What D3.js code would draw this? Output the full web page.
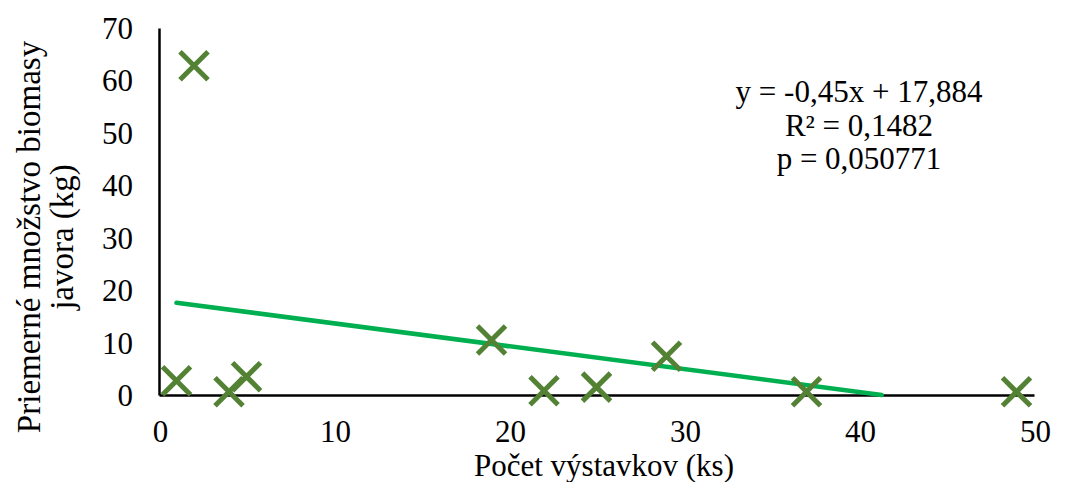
<!DOCTYPE html>
<html>
<head>
<meta charset="utf-8">
<script src="https://cdn.jsdelivr.net/npm/d3@7"></script>
<style>
  html, body { margin: 0; padding: 0; background: #fff; }
  svg { display: block; }
  text { font-family: "Liberation Serif", "Times New Roman", serif; fill: #000; }
</style>
</head>
<body>
<svg id="chart" width="1069" height="482"></svg>
<script>
// Data
const xValues = [1, 2, 4, 5, 19, 22, 25, 29, 37, 49];
const yValues = [2.7, 62.8, 0.6, 3.5, 10.5, 0.8, 1.5, 7.4, 0.6, 0.6];
const trendX = [1, 41.3];
const trendY = [17.6, 0];
const xTicks = [0, 10, 20, 30, 40, 50];
const yTicks = [0, 10, 20, 30, 40, 50, 60, 70];
const equationLines = ["y = -0,45x + 17,884", "R² = 0,1482", "p = 0,050771"];
const xTitle = "Počet výstavkov (ks)";
const yTitleLines = ["Priemerné množstvo biomasy", "javora (kg)"];

const FS = 31;
const svg = d3.select("#chart");
const x = d3.scaleLinear().domain([0, 50]).range([159, 1034]);
const y = d3.scaleLinear().domain([0, 70]).range([395, 28]);

const xAxis = d3.axisBottom(x).tickValues(xTicks).tickSize(0).tickPadding(0).tickFormat(d3.format("d"));
const yAxis = d3.axisLeft(y).tickValues(yTicks).tickSize(0).tickPadding(0).tickFormat(d3.format("d"));

const gx = svg.append("g").attr("transform", `translate(0,${y(0)})`).call(xAxis);
gx.select(".domain").attr("stroke", "#000").attr("stroke-width", 2.5);
gx.selectAll(".tick text")
  .attr("font-family", "Liberation Serif, serif")
  .attr("font-size", FS).attr("dy", null).attr("y", 46.5).attr("x", 1);

const gy = svg.append("g").attr("transform", `translate(${x(0)},0)`).call(yAxis);
gy.select(".domain").attr("stroke", "#000").attr("stroke-width", 2.5);
gy.selectAll(".tick text")
  .attr("font-family", "Liberation Serif, serif")
  .attr("font-size", FS).attr("x", -26).attr("dy", "0.34em");

// Trend line
const trendData = trendX.map((v, i) => [v, trendY[i]]);
svg.append("path")
  .datum(trendData)
  .attr("fill", "none")
  .attr("stroke", "#00B050")
  .attr("stroke-width", 4.5)
  .attr("stroke-linecap", "round")
  .attr("d", d3.line().x(d => x(d[0])).y(d => y(d[1])));

// X markers
const pts = xValues.map((v, i) => [v, yValues[i]]);
const s = 14;
const mk = svg.append("g").selectAll("g").data(pts).join("g")
  .attr("transform", d => `translate(${x(d[0])},${y(d[1])})`);
mk.append("path")
  .attr("d", `M${-s},${-s}L${s},${s}M${-s},${s}L${s},${-s}`)
  .attr("stroke", "#548235")
  .attr("stroke-width", 5)
  .attr("fill", "none");

// Equation annotation
svg.append("g").selectAll("text").data(equationLines).join("text")
  .attr("x", 859)
  .attr("y", (d, i) => 102 + i * 33.5)
  .attr("text-anchor", "middle")
  .attr("font-size", FS)
  .text(d => d);

// Axis titles
svg.append("text")
  .attr("x", 604).attr("y", 475.5)
  .attr("text-anchor", "middle")
  .attr("font-size", FS)
  .text(xTitle);

svg.append("g").selectAll("text").data(yTitleLines).join("text")
  .attr("transform", (d, i) => `translate(${40 + i * 33},237) rotate(-90)`)
  .attr("text-anchor", "middle")
  .attr("font-size", 33)
  .text(d => d);
</script>
</body>
</html>
